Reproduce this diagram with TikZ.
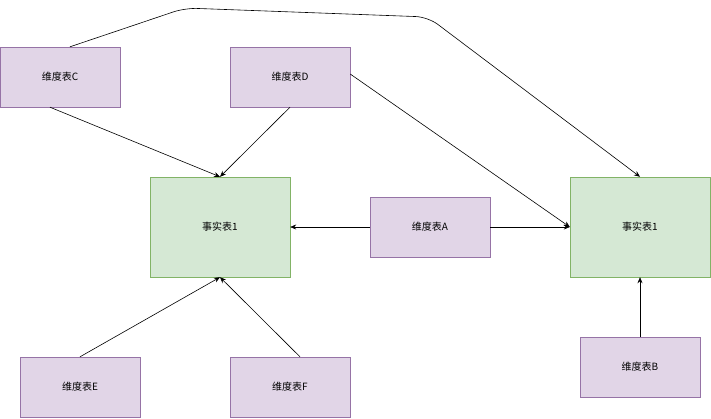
\documentclass[tikz,border=0pt]{standalone}
\usepackage{fontspec}
\setmainfont{Noto Sans CJK SC}
\usetikzlibrary{arrows.meta}
\definecolor{pf}{HTML}{E1D5E7}\definecolor{ps}{HTML}{9673A6}
\definecolor{gf}{HTML}{D5E8D4}\definecolor{gs}{HTML}{82B366}
\begin{document}
\begin{tikzpicture}[x=1pt,y=-1pt,
 dim/.style={draw=ps,fill=pf,minimum width=120pt,minimum height=60pt,inner sep=0pt,font=\fontsize{10}{12}\selectfont},
 fact/.style={draw=gs,fill=gf,minimum width=140pt,minimum height=100pt,inner sep=0pt,font=\fontsize{10}{12}\selectfont},
 arr/.style={draw,-{Stealth[length=6pt,width=5pt]},line width=0.6pt}]
\useasboundingbox (0,0) rectangle (711,418);
\node[dim] (C) at (60,77) {维度表C};
\node[dim] (D) at (290,77) {维度表D};
\node[fact] (F1) at (220,227) {事实表1};
\node[dim] (A) at (430,227) {维度表A};
\node[fact] (F2) at (640,227) {事实表1};
\node[dim] (E) at (80,387) {维度表E};
\node[dim] (F) at (290,387) {维度表F};
\node[dim] (B) at (640,367) {维度表B};
\draw[arr] ([xshift=-10pt]C.south) -- (F1.north);
\draw[arr] (D.south) -- (F1.north);
\draw[arr] (A.west) -- (F1.east);
\draw[arr] (A.east) -- (F2.west);
\draw[arr] ([yshift=3pt]D.east) -- (F2.west);
\draw[arr] (E.north) -- (F1.south);
\draw[arr] ([xshift=10pt]F.north) -- (F1.south);
\draw[arr] (B.north) -- (F2.south);
\draw[arr,rounded corners=12pt] ([xshift=10pt]C.north) -- (185,8) -- (428,17) -- (F2.north);
\end{tikzpicture}
\end{document}
